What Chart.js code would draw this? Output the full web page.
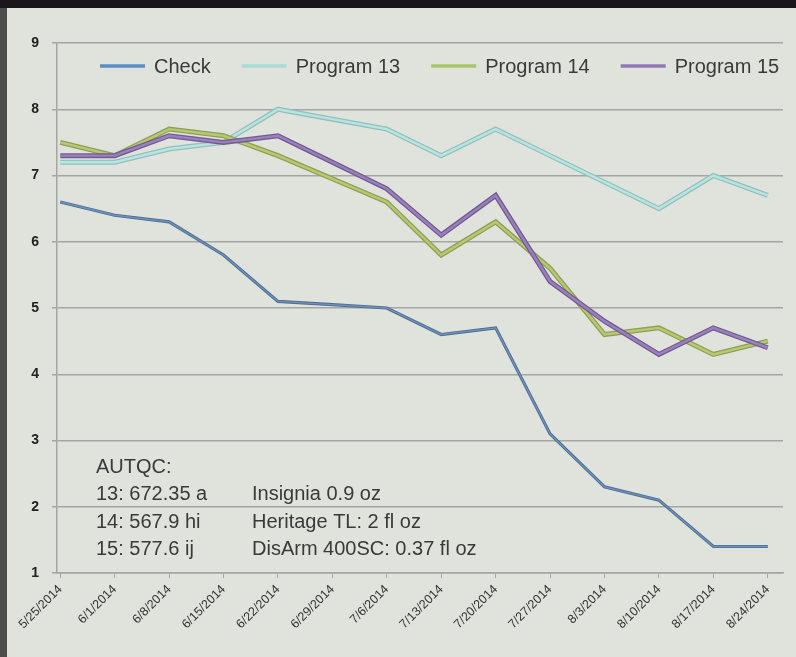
<!DOCTYPE html>
<html>
<head>
<meta charset="utf-8">
<script src="https://cdn.jsdelivr.net/npm/chart.js@4.4.1/dist/chart.umd.min.js"></script>
<style>
body { margin:0; background:#dfe3dc; width:796px; height:657px; overflow:hidden; position:relative; }
#band { position:absolute; left:0; top:0; width:796px; height:8px; background:#1b161a; }
#edge { position:absolute; left:0; top:8px; width:7px; height:649px; background:#4d4d4d; }
#chart { position:absolute; left:7px; top:8px; }
</style>
</head>
<body>
<div id="band"></div><div id="edge"></div>
<canvas id="chart" width="789" height="649"></canvas>
<script>
'use strict';

var dates = ['5/25/2014', '6/1/2014', '6/8/2014', '6/15/2014', '6/22/2014', '6/29/2014', '7/6/2014',
  '7/13/2014', '7/20/2014', '7/27/2014', '8/3/2014', '8/10/2014', '8/17/2014', '8/24/2014'];

var check = [6.6, 6.4, 6.3, 5.8, 5.1, 5.05, 5.0, 4.6, 4.7, 3.1, 2.3, 2.1, 1.4, 1.4];
var program13 = [7.2, 7.2, 7.4, 7.5, 8.0, 7.85, 7.7, 7.3, 7.7, 7.3, 6.9, 6.5, 7.0, 6.7];
var program14 = [7.5, 7.3, 7.7, 7.6, 7.3, 6.95, 6.6, 5.8, 6.3, 5.6, 4.6, 4.7, 4.3, 4.5];
var program15 = [7.3, 7.3, 7.6, 7.5, 7.6, 7.2, 6.8, 6.1, 6.7, 5.4, 4.8, 4.3, 4.7, 4.4];

var seriesNames = ['Check', 'Program 13', 'Program 14', 'Program 15'];
var seriesValues = [check, program13, program14, program15];

var legendColors = ['#5c8cc6', '#a8dad6', '#aac66c', '#9277b3'];
var edgeColors = ['#4d6d93', '#93bfbe', '#909f58', '#725a93'];
var coreColors = ['#7092ba', '#b8e4e1', '#b6ca70', '#9a81bb'];
var edgeWidths = [3.2, 5, 5, 5];
var coreWidths = [1.3, 2.4, 2.4, 2.4];

var noteLeft = ['AUTQC:', '13: 672.35 a', '14: 567.9 hi', '15: 577.6 ij'];
var noteRight = ['', 'Insignia 0.9 oz', 'Heritage TL: 2 fl oz', 'DisArm 400SC: 0.37 fl oz'];

var datasets = [];
for (var i = 0; i < seriesNames.length; i++) {
  var pts = seriesValues[i].map(function (v, j) { return {x: j, y: v}; });
  datasets.push({
    label: seriesNames[i] + ' edge',
    data: pts,
    borderColor: edgeColors[i],
    borderWidth: edgeWidths[i],
    pointRadius: 0,
    tension: 0,
    order: 2 * (seriesNames.length - i)
  });
  datasets.push({
    label: seriesNames[i],
    data: pts,
    borderColor: coreColors[i],
    borderWidth: coreWidths[i],
    pointRadius: 0,
    tension: 0,
    order: 2 * (seriesNames.length - i) - 1
  });
}

var overlay = {
  id: 'overlay',
  afterDraw: function (chart) {
    var c = chart.ctx;
    var area = chart.chartArea;
    c.save();
    c.font = '20px "Liberation Sans", Arial, sans-serif';
    c.textBaseline = 'middle';
    c.fillStyle = '#3a3a3a';

    // legend inside the plot
    var x = area.left + 43;
    var y = area.top + 23;
    for (var i = 0; i < seriesNames.length; i++) {
      c.strokeStyle = legendColors[i];
      c.lineWidth = 3.5;
      c.beginPath();
      c.moveTo(x, y);
      c.lineTo(x + 45, y);
      c.stroke();
      c.fillText(seriesNames[i], x + 54, y + 1);
      x += 54 + c.measureText(seriesNames[i]).width + 31;
    }

    // notes bottom left
    c.textBaseline = 'alphabetic';
    for (var k = 0; k < noteLeft.length; k++) {
      var by = area.top + 430 + k * 27.3;
      c.fillText(noteLeft[k], area.left + 39, by);
      c.fillText(noteRight[k], area.left + 195, by);
    }
    c.restore();
  }
};

var ctx = document.getElementById('chart').getContext('2d');

var chart = new Chart(ctx, {
  type: 'line',
  data: {datasets: datasets},
  options: {
    responsive: false,
    animation: false,
    layout: {padding: {top: 35, right: 13, bottom: 0, left: 0}},
    plugins: {legend: {display: false}, tooltip: {enabled: false}},
    scales: {
      x: {
        type: 'linear',
        min: -0.06,
        max: 13.28,
        afterFit: function (s) { s.height = 84; },
        grid: {drawOnChartArea: false, color: '#a3a6a2', tickLength: 5},
        border: {color: '#a3a6a2', width: 1.5},
        ticks: {
          stepSize: 1,
          includeBounds: false,
          autoSkip: false,
          maxRotation: 45,
          minRotation: 45,
          padding: 4,
          color: '#333',
          font: {family: '"Liberation Sans", Arial, sans-serif', size: 12.5},
          callback: function (v) { return dates[v] || ''; }
        }
      },
      y: {
        min: 1,
        max: 9,
        afterFit: function (s) { s.width = 50; },
        grid: {color: '#a3a6a2', lineWidth: 1.5, tickLength: 5},
        border: {color: '#a3a6a2', width: 1.5},
        ticks: {
          stepSize: 1,
          padding: 13,
          color: '#222',
          font: {family: '"Liberation Sans", Arial, sans-serif', size: 14, weight: 'bold'}
        }
      }
    }
  },
  plugins: [overlay]
});
</script>
</body>
</html>
